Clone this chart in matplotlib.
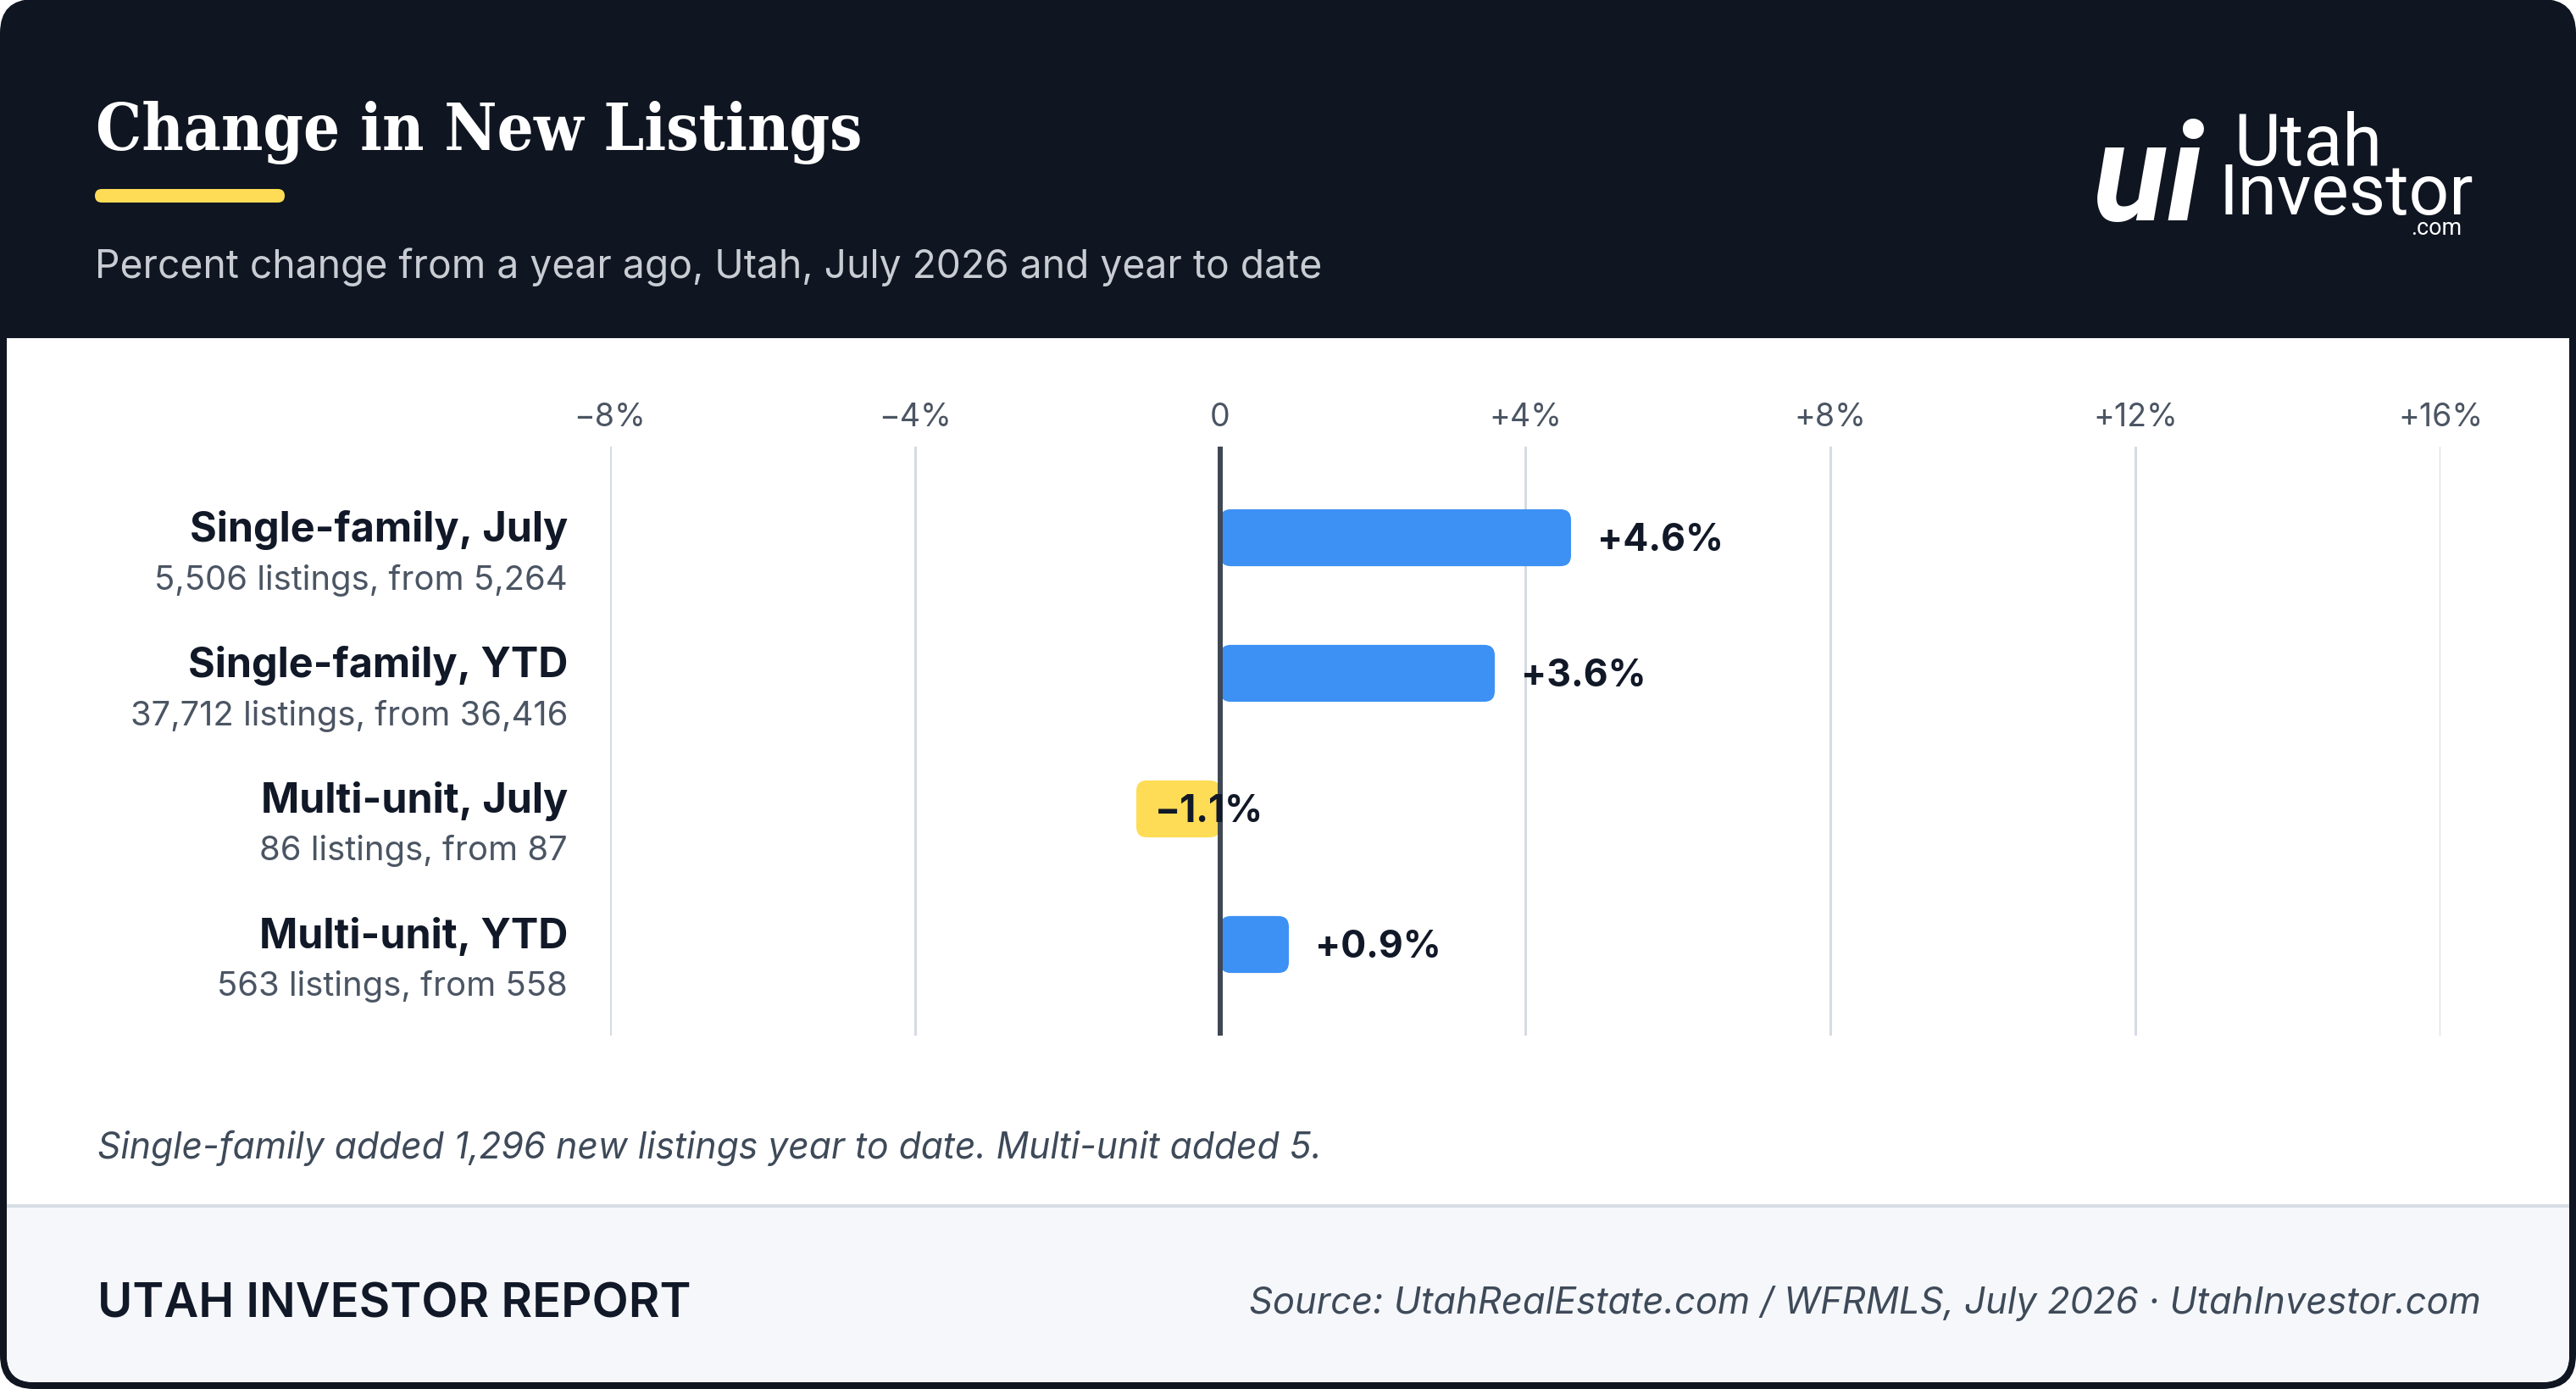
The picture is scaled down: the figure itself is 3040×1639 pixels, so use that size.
import matplotlib
matplotlib.use("Agg")
import matplotlib.pyplot as plt
from matplotlib.patches import FancyBboxPatch, Rectangle

# chart data
categories = ["Single-family, July", "Single-family, YTD", "Multi-unit, July", "Multi-unit, YTD"]
details = ["5,506 listings, from 5,264", "37,712 listings, from 36,416",
           "86 listings, from 87", "563 listings, from 558"]
pct_change = [4.6, 3.6, -1.1, 0.9]
value_labels = ["+4.6%", "+3.6%", "\u22121.1%", "+0.9%"]
tick_values = [-8, -4, 0, 4, 8, 12, 16]
tick_labels = ["\u22128%", "\u22124%", "0", "+4%", "+8%", "+12%", "+16%"]

title = "Change in New Listings"
subtitle = "Percent change from a year ago, Utah, July 2026 and year to date"
footnote = "Single-family added 1,296 new listings year to date. Multi-unit added 5."
brand = "UTAH INVESTOR REPORT"
source = "Source: UtahRealEstate.com / WFRMLS, July 2026 \u00b7 UtahInvestor.com"

# colours
DARK = "#0F1521"
BLUE = "#3D91F4"
YELLOW = "#FEDC56"
INK = "#111827"
GREY = "#4B5563"
GRID = "#D6DBE3"
ZERO = "#3F4753"
FOOT_BG = "#F5F7FA"

W, H = 3040, 1640
fig = plt.figure(figsize=(W / 100, H / 100), dpi=100)
fig.patch.set_facecolor("white")
SANS = ["Inter", "DejaVu Sans"]
NARROW = ["Liberation Sans Narrow", "Roboto"]

# background canvas in pixel coordinates
bg = fig.add_axes([0, 0, 1, 1], zorder=0)
bg.set_xlim(0, W)
bg.set_ylim(H, 0)
bg.axis("off")

bg.add_patch(FancyBboxPatch((0, 0), W, H, boxstyle="round,pad=0,rounding_size=40",
                            facecolor=DARK, edgecolor="none"))
bg.add_patch(FancyBboxPatch((8, 340), W - 16, H - 8 - 340, boxstyle="round,pad=0,rounding_size=32",
                            facecolor="white", edgecolor="none"))
bg.add_patch(Rectangle((8, 300), W - 16, 100, facecolor=DARK, edgecolor="none"))
bg.add_patch(FancyBboxPatch((8, 1424), W - 16, H - 8 - 1424, boxstyle="round,pad=0,rounding_size=32",
                            facecolor=FOOT_BG, edgecolor="none"))
bg.add_patch(Rectangle((8, 1424), W - 16, 60, facecolor=FOOT_BG, edgecolor="none"))
bg.add_patch(Rectangle((8, 1422), W - 16, 4, facecolor="#D8DEE5", edgecolor="none"))

# yellow accent under the title
bg.add_patch(FancyBboxPatch((112, 224), 224, 16, boxstyle="round,pad=0,rounding_size=8",
                            facecolor=YELLOW, edgecolor="none"))

renderer = fig.canvas.get_renderer()


def fit_width(txt, target_px):
    w = txt.get_window_extent(renderer=renderer).width
    txt.set_fontsize(txt.get_fontsize() * target_px / w)
    return txt.get_fontsize()


t = bg.text(113, 177, title, family=["DejaVu Serif"], stretch="condensed", weight="bold",
            color="white", fontsize=60, va="baseline", ha="left")
fit_width(t, 905)
t = bg.text(112, 328, subtitle, family=SANS, color="#C9CDD3", fontsize=32, va="baseline", ha="left")
fit_width(t, 1446)

# logo
t = bg.text(2600, 260, "ui", family=NARROW, weight="bold", style="italic",
            color="white", fontsize=150, va="baseline", ha="right")
fit_width(t, 130)
t = bg.text(2636, 195, "Utah", family=NARROW, color="white",
            fontsize=60, va="baseline", ha="left")
fit_width(t, 175)
t = bg.text(2619, 253, "Investor", family=NARROW, color="white",
            fontsize=60, va="baseline", ha="left")
fit_width(t, 301)
t = bg.text(2905, 277, ".com", family=NARROW, color="white",
            fontsize=18, va="baseline", ha="right")
fit_width(t, 60)

# footnote and footer
t = bg.text(115, 1367, footnote, family=SANS, style="italic", color="#3E4A59",
            fontsize=26, va="baseline", ha="left")
fit_width(t, 1445)
t = bg.text(115, 1555, brand, family=SANS, weight="semibold", color=INK,
            fontsize=38, va="baseline", ha="left")
fit_width(t, 700)
t = bg.text(2928, 1550, source, family=SANS, style="italic", color="#3E4A59",
            fontsize=30, va="baseline", ha="right")
fit_width(t, 1455)

# chart axes: x from 720 px to 2880 px, y from 528 px to 1223 px
ax = fig.add_axes([720 / W, 1 - 1223 / H, 2160 / W, 695 / H], zorder=1)
ax.set_facecolor("none")
ax.set_xlim(-8, 16)
ax.set_ylim(3.672, -0.672)
for s in ax.spines.values():
    s.set_visible(False)

ax.xaxis.tick_top()
ax.set_xticks(tick_values)
ax.set_xticklabels(tick_labels, family=SANS, fontsize=27, color=GREY)
ax.tick_params(axis="x", length=0, pad=12)
ax.set_yticks([])
ax.grid(axis="x", color=GRID, linewidth=2.2, zorder=0)
ax.set_axisbelow(True)
ax.axvline(0, color=ZERO, linewidth=4.3, zorder=3)

bar_h = 0.42
aspect = (1 / 160) / (1 / 90)
for i, v in enumerate(pct_change):
    color = BLUE if v >= 0 else YELLOW
    x0 = min(0, v)
    ax.add_patch(FancyBboxPatch((x0, i - bar_h / 2), abs(v), bar_h,
                                boxstyle="round,pad=0,rounding_size=0.14",
                                mutation_aspect=aspect, facecolor=color,
                                edgecolor="none", zorder=2))
    offset = 22 if v >= 0 else 16
    ax.annotate(value_labels[i], xy=(v, i + 0.015), xytext=(offset, 0), textcoords="offset points",
                family=SANS, weight="bold", fontsize=32, color=INK,
                ha="left", va="center", zorder=4)

name_size = None
det_size = None
for i, (name, det) in enumerate(zip(categories, details)):
    t1 = ax.annotate(name, xy=(0, i + 0.02), xycoords=("axes fraction", "data"),
                     xytext=(-36, 0), textcoords="offset points",
                     family=SANS, weight="bold", fontsize=name_size or 34, color=INK,
                     ha="right", va="baseline", annotation_clip=False)
    t2 = ax.annotate(det, xy=(0, i + 0.375), xycoords=("axes fraction", "data"),
                     xytext=(-36, 0), textcoords="offset points",
                     family=SANS, fontsize=det_size or 29, color=GREY,
                     ha="right", va="baseline", annotation_clip=False)
    if i == 0:
        name_size = fit_width(t1, 447)
        det_size = fit_width(t2, 488)

fig.savefig("out.png", dpi=100, facecolor=fig.get_facecolor())
